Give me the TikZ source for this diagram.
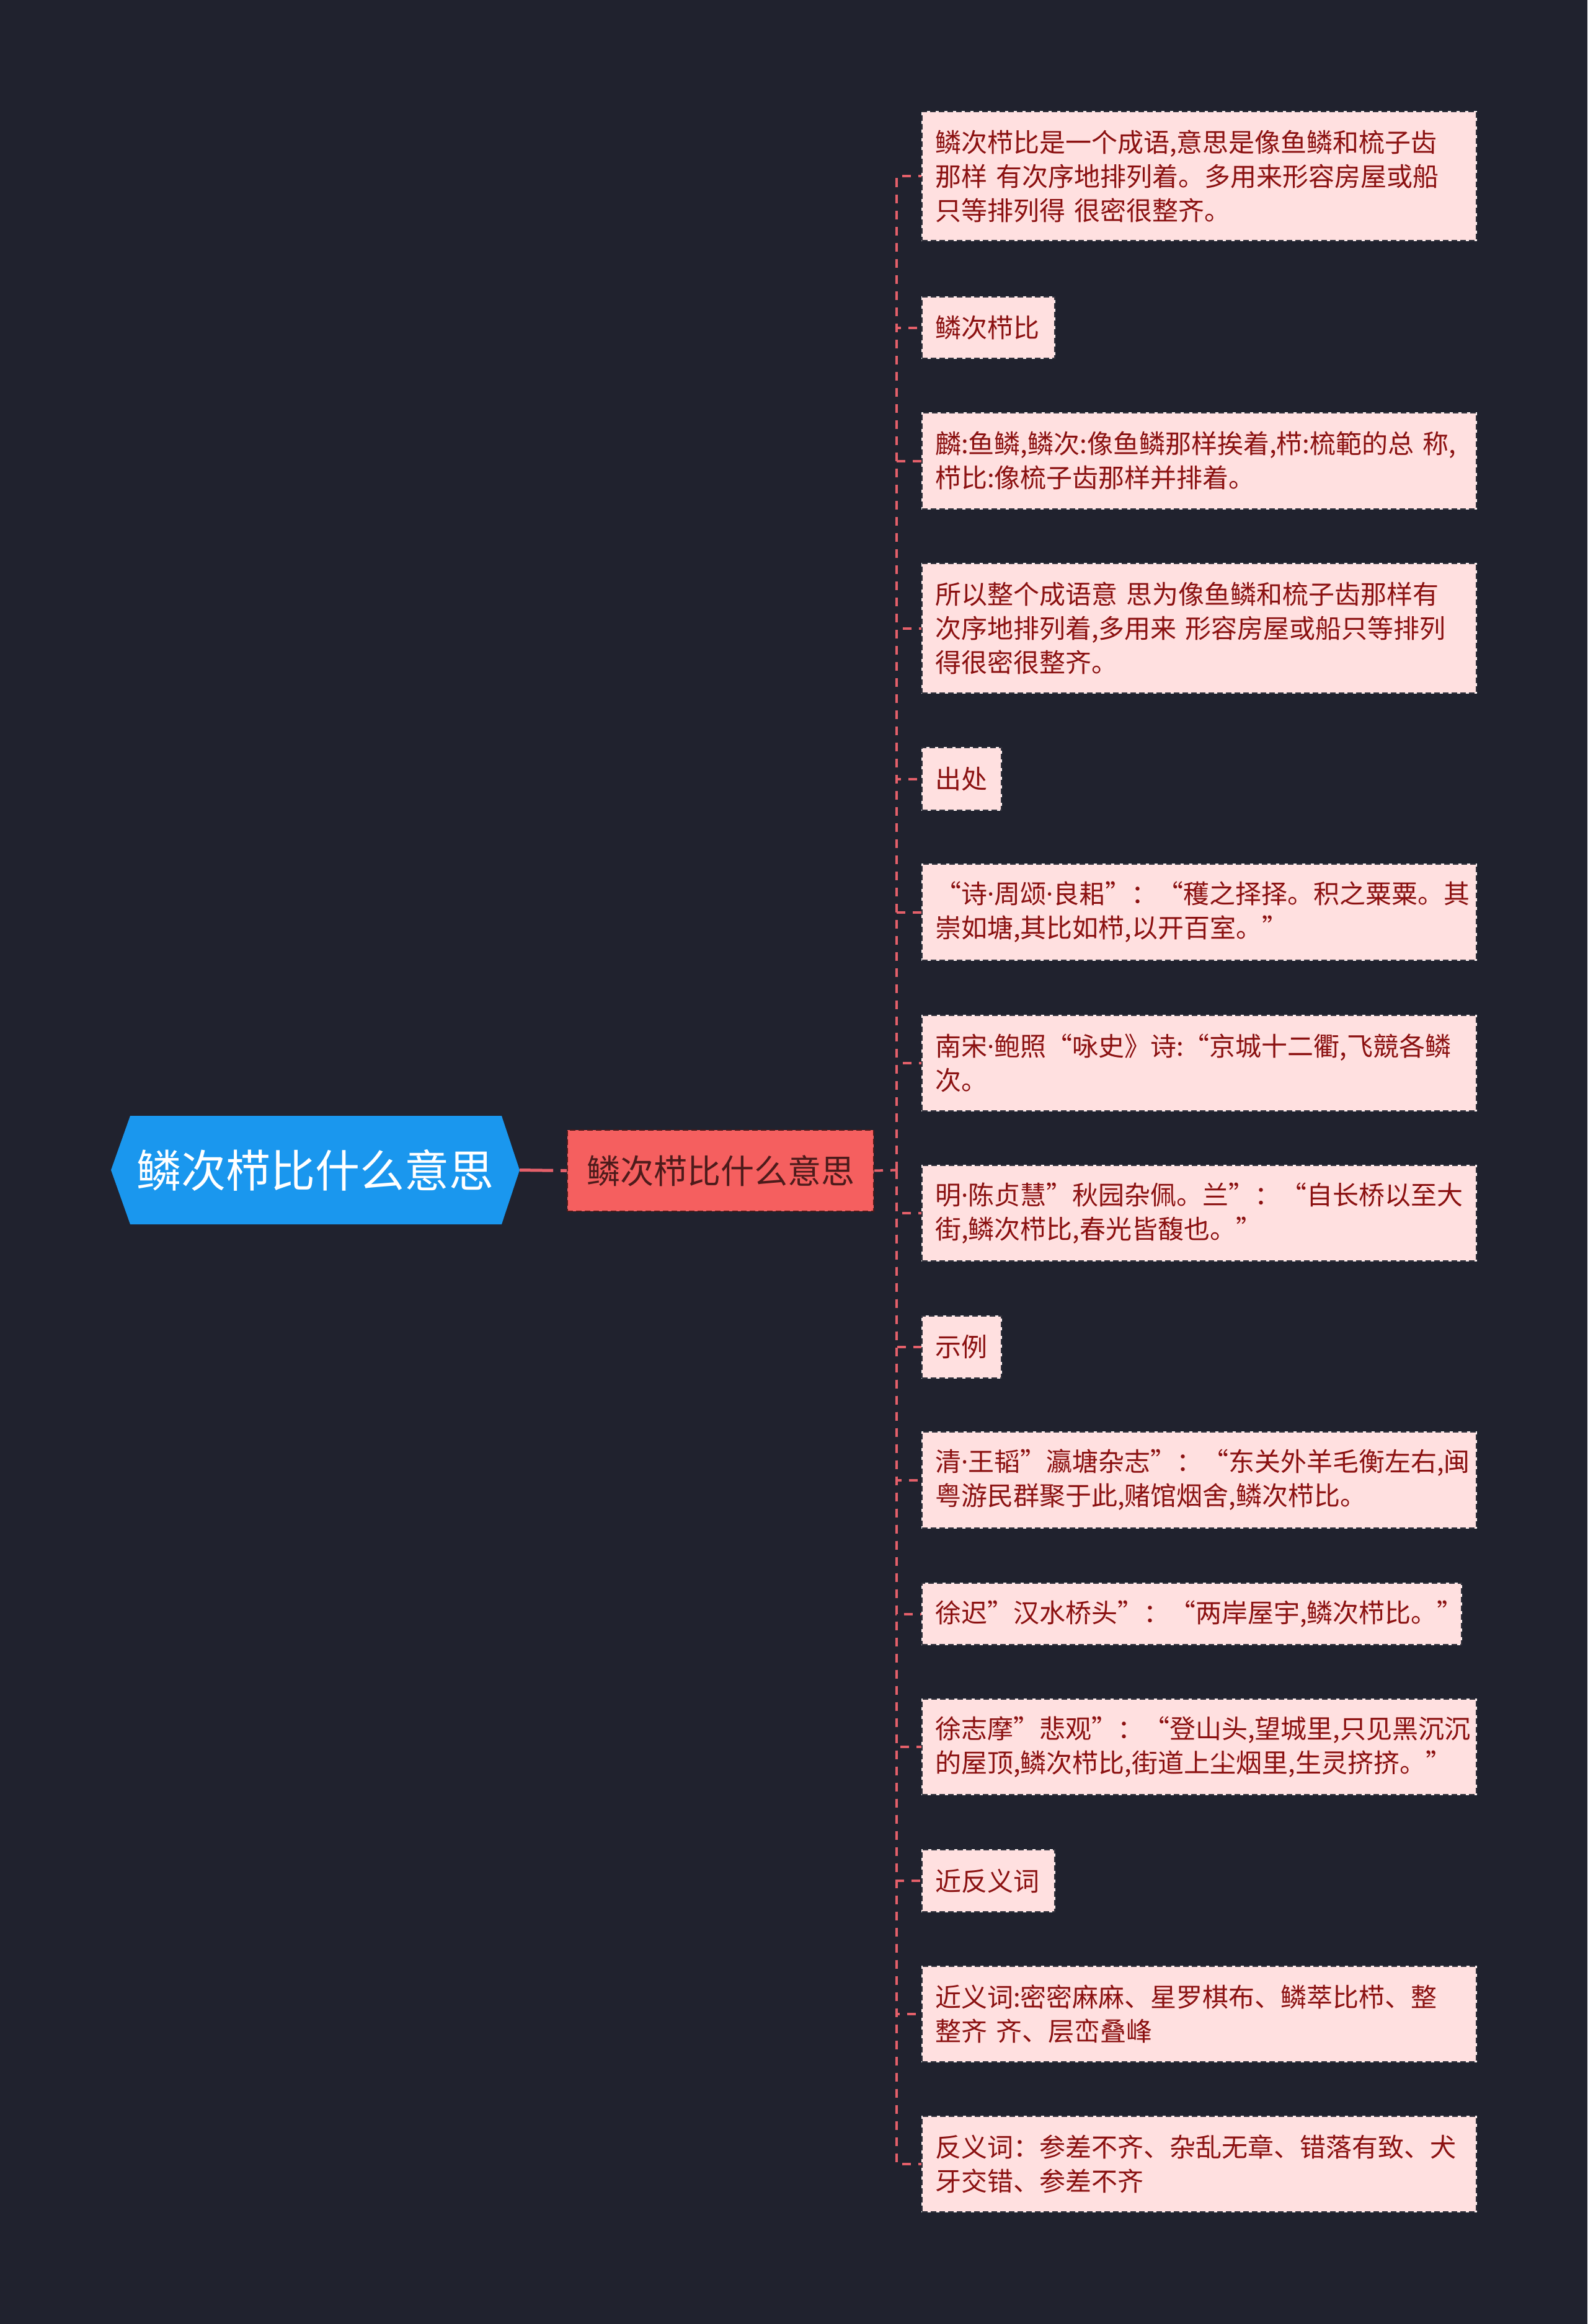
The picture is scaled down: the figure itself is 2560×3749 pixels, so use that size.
\documentclass[tikz,border=0pt]{standalone}
\usepackage{fontspec}
\setmainfont{Noto Sans CJK SC}
\newfontfamily\latf{Noto Sans}
\newcommand{\mdot}{{\latf ·}}
\definecolor{bgc}{HTML}{20222E}
\definecolor{conncol}{HTML}{E4606A}
\definecolor{rootfill}{HTML}{1A97EE}
\definecolor{mainfill}{HTML}{F55F5F}
\definecolor{maintext}{HTML}{4D1B1B}
\definecolor{leaffill}{HTML}{FFE0E0}
\definecolor{leaftext}{HTML}{8B1111}
\definecolor{leafborder}{HTML}{34343E}
\begin{document}
\begin{tikzpicture}[x=1pt,y=-1pt,
  leaf/.style={anchor=north west, fill=leaffill, draw=leafborder, line width=2pt,
    dash pattern=on 9pt off 5pt, preaction={draw=white, solid, line width=2pt},
    inner xsep=21pt, inner ysep=0pt, align=left, text=leaftext,
    font=\fontsize{42}{55}\selectfont},
  long/.style={text width=852pt},
  conn/.style={draw=conncol, line width=4pt, dash pattern=on 14pt off 12pt},
  rootconn/.style={draw=conncol, line width=5pt, dash pattern=on 54pt off 12pt}]
\fill[bgc] (0,0) rectangle (2560,3749);
\useasboundingbox (0,0) rectangle (2560,3749);
% root hexagon
\fill[rootfill] (179,1887.5) -- (210,1800) -- (809,1800) -- (838,1887.5) -- (809,1975) -- (210,1975) -- cycle;
\node[font=\fontsize{72}{80}\selectfont, text=white, minimum width=659pt, minimum height=175pt, inner sep=0pt] (root) at (508.5,1887.5) {鳞次栉比什么意思};
\node[anchor=north west, fill=mainfill, draw=maintext, line width=2pt, dash pattern=on 9pt off 5pt,
  minimum width=494pt, minimum height=131pt, inner sep=0pt, text=maintext,
  font=\fontsize{54}{60}\selectfont] (main) at (914,1822) {鳞次栉比什么意思};
\coordinate (hub) at (1446,1887.5);
% leaves
\node[leaf,long,minimum height=208pt] (c1) at (1486,179) {鳞次栉比是一个成语,意思是像鱼鳞和梳子齿\\那样~有次序地排列着。多用来形容房屋或船\\只等排列得~很密很整齐。};
\node[leaf,text width=172pt,minimum height=99pt] (c2) at (1486,478) {鳞次栉比};
\node[leaf,long,minimum height=155pt] (c3) at (1486,665) {麟:鱼鳞,鳞次:像鱼鳞那样挨着,栉:梳範的总~称,\\栉比:像梳子齿那样并排着。};
\node[leaf,long,minimum height=209pt] (c4) at (1486,908) {所以整个成语意~思为像鱼鳞和梳子齿那样有\\次序地排列着,多用来~形容房屋或船只等排列\\得很密很整齐。};
\node[leaf,text width=86pt,minimum height=101pt] (c5) at (1486,1205) {出处};
\node[leaf,long,minimum height=155pt] (c6) at (1486,1393) {“诗\mdot 周颂\mdot 良耜”：“穫之择择。积之粟粟。其\\崇如塘,其比如栉,以开百室。”};
\node[leaf,long,minimum height=154pt] (c7) at (1486,1637) {南宋\mdot 鲍照“咏史》诗:“京城十二衢,飞競各鳞\\次。};
\node[leaf,long,minimum height=154pt] (c8) at (1486,1879) {明\mdot 陈贞慧”秋园杂佩。兰”：“自长桥以至大\\街,鳞次栉比,春光皆馥也。”};
\node[leaf,text width=86pt,minimum height=100pt] (c9) at (1486,2122) {示例};
\node[leaf,long,minimum height=155pt] (c10) at (1486,2309) {清\mdot 王韬”瀛塘杂志”：“东关外羊毛衡左右,闽\\粤游民群聚于此,赌馆烟舍,鳞次栉比。};
\node[leaf,text width=828pt,minimum height=99pt] (c11) at (1486,2553) {徐迟”汉水桥头”：“两岸屋宇,鳞次栉比。”};
\node[leaf,long,minimum height=154pt] (c12) at (1486,2740) {徐志摩”悲观”：“登山头,望城里,只见黑沉沉\\的屋顶,鳞次栉比,街道上尘烟里,生灵挤挤。”};
\node[leaf,text width=172pt,minimum height=100pt] (c13) at (1486,2983) {近反义词};
\node[leaf,long,minimum height=154pt] (c14) at (1486,3171) {近义词:密密麻麻、星罗棋布、鳞萃比栉、整\\整齐~齐、层峦叠峰};
\node[leaf,long,minimum height=154pt] (c15) at (1486,3413) {反义词：参差不齐、杂乱无章、错落有致、犬\\牙交错、参差不齐};
% connectors
\draw[rootconn] (root.east) -- (main.west);
\draw[conn] (main.east) -- (hub);
\foreach \c in {c1,c2,c3,c4,c5,c6,c7,c8,c9,c10,c11,c12,c13,c14,c15}
  \draw[conn] (hub) |- (\c.west);
\end{tikzpicture}
\end{document}
